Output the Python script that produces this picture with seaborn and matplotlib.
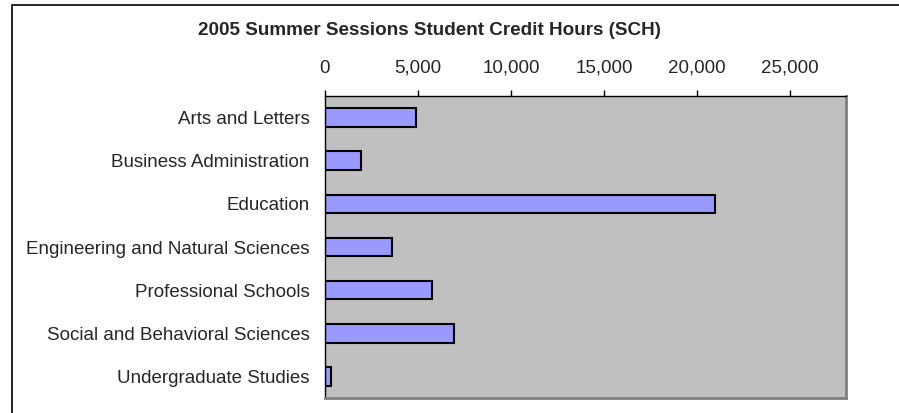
import matplotlib
matplotlib.use("Agg")
import matplotlib.pyplot as plt
import matplotlib.patches as patches
from matplotlib.ticker import FuncFormatter, FixedLocator
import seaborn as sns
import pandas as pd

# Data
colleges = [
    "Arts and Letters",
    "Business Administration",
    "Education",
    "Engineering and Natural Sciences",
    "Professional Schools",
    "Social and Behavioral Sciences",
    "Undergraduate Studies",
]
sch = [4870, 1920, 20950, 3620, 5750, 6950, 310]
x_ticks = [0, 5000, 10000, 15000, 20000, 25000]

df = pd.DataFrame({"College": colleges, "SCH": sch})

sns.set_style("white")
plt.rcParams["font.family"] = ["Liberation Sans", "DejaVu Sans"]

fig = plt.figure(figsize=(8.99, 4.13), dpi=100)
ax = fig.add_axes([325 / 899, 1 - 398 / 413, 521 / 899, 302 / 413])

sns.barplot(data=df, x="SCH", y="College", orient="h", color="#9999FF",
            saturation=1, edgecolor="black", linewidth=1.5, width=0.43, ax=ax)

ax.set_facecolor("#C0C0C0")
ax.set_xlim(0, 28000)
ax.set_ylim(6.5, -0.5)
ax.set_xlabel("")
ax.set_ylabel("")

# x axis on top, like the Excel original
ax.xaxis.tick_top()
ax.set_xticks(x_ticks)
ax.xaxis.set_major_formatter(FuncFormatter(lambda v, p: f"{int(v):,}"))
ax.tick_params(axis="x", which="major", direction="out", length=4.5, width=1,
               color="black", pad=9.5, labelsize=13.5)

# category ticks sit between the bars
ax.tick_params(axis="y", which="major", length=0, pad=11, labelsize=13.5)
ax.yaxis.set_minor_locator(FixedLocator([i - 0.5 for i in range(len(colleges) + 1)]))
ax.tick_params(axis="y", which="minor", direction="out", length=4.5, width=1, color="black")

for side in ["top", "left"]:
    ax.spines[side].set_color("black")
    ax.spines[side].set_linewidth(1)
for side in ["right", "bottom"]:
    ax.spines[side].set_color("#808080")
    ax.spines[side].set_linewidth(2)

fig.text(430 / 899, 1 - 30.5 / 413, "2005 Summer Sessions Student Credit Hours (SCH)",
         ha="center", va="center", fontsize=13.6, fontweight="bold")

# chart frame (only left and top edges fall inside the picture)
frame = patches.Rectangle((12 / 899, -0.1), 1.0, 1 - 4.5 / 413 + 0.1,
                          transform=fig.transFigure, fill=False,
                          edgecolor="black", linewidth=1.2)
fig.patches.append(frame)

fig.savefig("out.png", dpi=100)
